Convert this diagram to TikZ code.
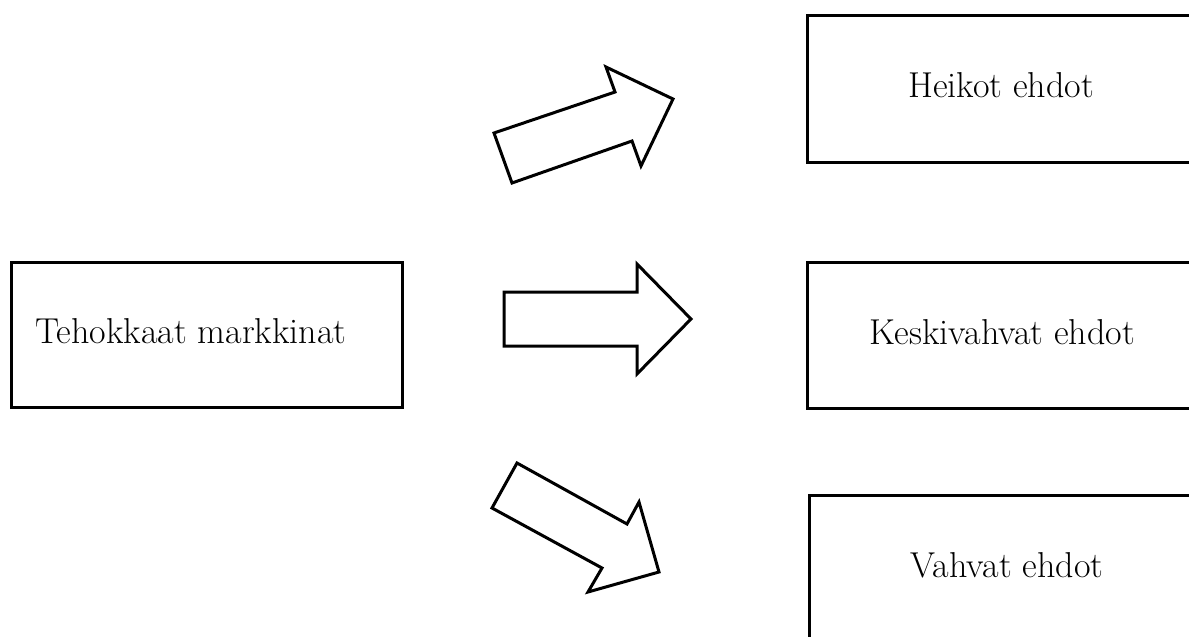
\documentclass[tikz,border=0pt]{standalone}
\usepackage{fontspec}
\begin{document}
\begin{tikzpicture}[x=1pt,y=-1pt,
  box/.style={draw=black,line width=3pt,rectangle,inner sep=0pt,outer sep=0pt},
  boxtext/.style={anchor=base,inner sep=0pt,font=\fontsize{36}{43}\selectfont},
  blockarrow/.style={draw=black,fill=white,line width=3pt,line join=miter}]
\useasboundingbox (0,0) rectangle (1189,637);
\clip (0,0) rectangle (1189,637);

% source box on the left
\node[box,minimum width=391pt,minimum height=145pt] (src) at (206.5,334.5) {};
\node[boxtext] (srctxt) at (191,343) {Tehokkaat markkinat};

% three outcome boxes, running off the right edge
\node[box,minimum width=398pt,minimum height=147pt] (weak) at (1006,88.5) {};
\node[boxtext] (weaktxt) at (1001,97) {Heikot ehdot};

\node[box,minimum width=398pt,minimum height=146pt] (mid) at (1006,335) {};
\node[boxtext] (midtxt) at (1002,344) {Keskivahvat ehdot};

\node[box,minimum width=396pt,minimum height=165pt] (strong) at (1007,577.5) {};
\node[boxtext] (strongtxt) at (1007,577) {Vahvat ehdot};

% block arrows
\draw[blockarrow] (512,183) -- (494,133) -- (615,92) -- (606,67) -- (673,99)
  -- (641,166) -- (632,141) -- cycle;
\draw[blockarrow] (504,292) -- (637,292) -- (637,264) -- (691,319)
  -- (637,374) -- (637,346) -- (504,346) -- cycle;
\draw[blockarrow] (517,463) -- (492,508) -- (602,568) -- (588,592) -- (659,572)
  -- (639,502) -- (627,524) -- cycle;
\end{tikzpicture}
\end{document}
